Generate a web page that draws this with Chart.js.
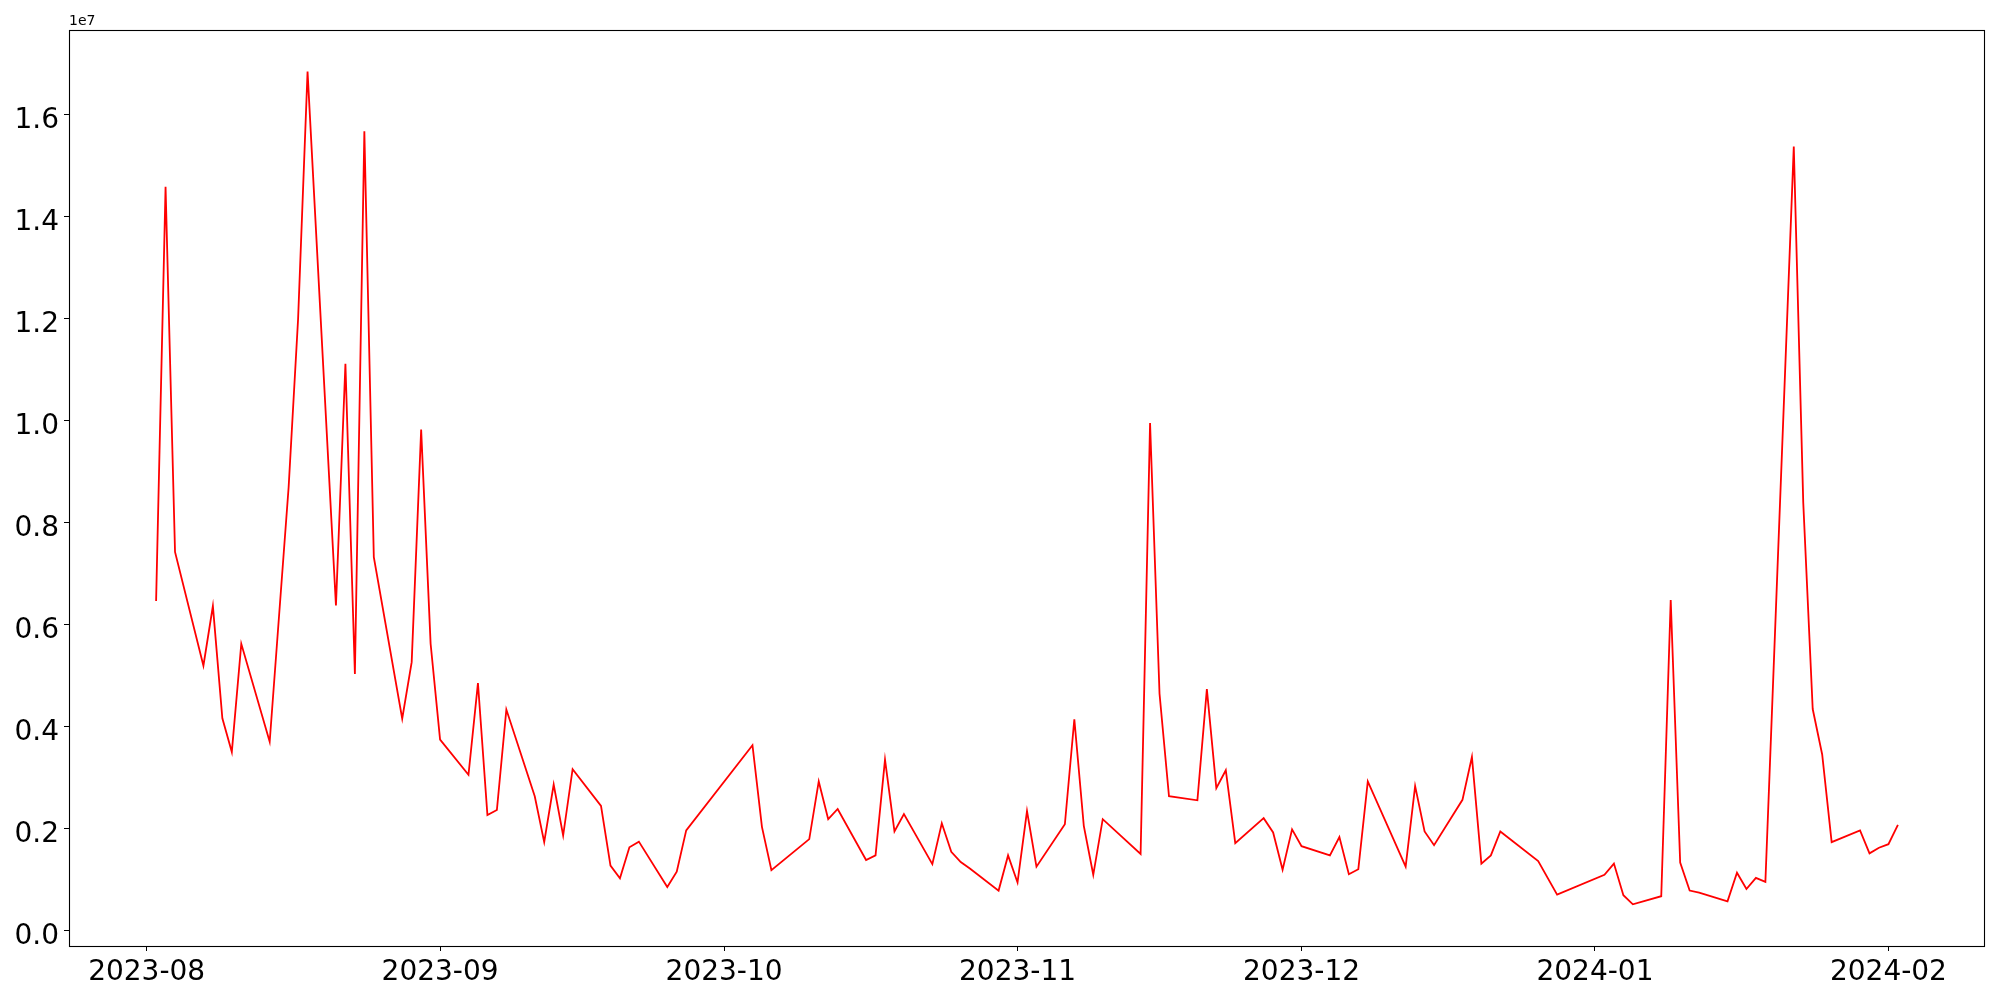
<!DOCTYPE html>
<html>
<head>
<meta charset="utf-8">
<script src="https://cdn.jsdelivr.net/npm/chart.js@4.4.1/dist/chart.umd.min.js"></script>
<style>
  body { margin: 0; background: #fff; }
  #wrap { width: 2000px; height: 1000px; }
</style>
</head>
<body>
<div id="wrap"><canvas id="volumeChart" width="2000" height="1000"></canvas></div>
<script>
const dates = [
    "2023-08-02", "2023-08-03", "2023-08-04", "2023-08-07", "2023-08-08", "2023-08-09", "2023-08-10", "2023-08-11",
    "2023-08-14", "2023-08-16", "2023-08-17", "2023-08-18", "2023-08-21", "2023-08-22", "2023-08-23", "2023-08-24",
    "2023-08-25", "2023-08-28", "2023-08-29", "2023-08-30", "2023-08-31", "2023-09-01", "2023-09-04", "2023-09-05",
    "2023-09-06", "2023-09-07", "2023-09-08", "2023-09-11", "2023-09-12", "2023-09-13", "2023-09-14", "2023-09-15",
    "2023-09-18", "2023-09-19", "2023-09-20", "2023-09-21", "2023-09-22", "2023-09-25", "2023-09-26", "2023-09-27",
    "2023-10-04", "2023-10-05", "2023-10-06", "2023-10-10", "2023-10-11", "2023-10-12", "2023-10-13", "2023-10-16",
    "2023-10-17", "2023-10-18", "2023-10-19", "2023-10-20", "2023-10-23", "2023-10-24", "2023-10-25", "2023-10-26",
    "2023-10-27", "2023-10-30", "2023-10-31", "2023-11-01", "2023-11-02", "2023-11-03", "2023-11-06", "2023-11-07",
    "2023-11-08", "2023-11-09", "2023-11-10", "2023-11-14", "2023-11-15", "2023-11-16", "2023-11-17", "2023-11-20",
    "2023-11-21", "2023-11-22", "2023-11-23", "2023-11-24", "2023-11-27", "2023-11-28", "2023-11-29", "2023-11-30",
    "2023-12-01", "2023-12-04", "2023-12-05", "2023-12-06", "2023-12-07", "2023-12-08", "2023-12-12", "2023-12-13",
    "2023-12-14", "2023-12-15", "2023-12-18", "2023-12-19", "2023-12-20", "2023-12-21", "2023-12-22", "2023-12-26",
    "2023-12-28", "2024-01-02", "2024-01-03", "2024-01-04", "2024-01-05", "2024-01-08", "2024-01-09", "2024-01-10",
    "2024-01-11", "2024-01-12", "2024-01-15", "2024-01-16", "2024-01-17", "2024-01-18", "2024-01-19", "2024-01-22",
    "2024-01-23", "2024-01-24", "2024-01-25", "2024-01-26", "2024-01-29", "2024-01-30", "2024-01-31", "2024-02-01",
    "2024-02-02"
];

const volumes = [
    6470000, 14590000, 7430000, 5200000, 6370000, 4170000, 3510000, 5630000,
    3710000, 8700000, 12000000, 16850000, 6380000, 11120000, 5040000, 15680000,
    7330000, 4160000, 5270000, 9830000, 5630000, 3750000, 3060000, 4860000,
    2270000, 2370000, 4340000, 2640000, 1740000, 2870000, 1870000, 3170000,
    2450000, 1280000, 1030000, 1640000, 1750000, 860000, 1160000, 1970000,
    3640000, 2040000, 1190000, 1800000, 2930000, 2190000, 2390000, 1390000,
    1480000, 3360000, 1950000, 2290000, 1310000, 2110000, 1550000, 1350000,
    1220000, 790000, 1480000, 950000, 2350000, 1260000, 2090000, 4150000,
    2060000, 1100000, 2190000, 1510000, 9960000, 4650000, 2640000, 2560000,
    4740000, 2800000, 3150000, 1720000, 2210000, 1930000, 1200000, 1990000,
    1660000, 1480000, 1840000, 1110000, 1210000, 2930000, 1260000, 2840000,
    1950000, 1680000, 2570000, 3410000, 1320000, 1480000, 1950000, 1370000,
    710000, 1100000, 1320000, 700000, 520000, 680000, 6490000, 1340000,
    790000, 750000, 580000, 1140000, 820000, 1040000, 960000, 15380000,
    8400000, 4350000, 3460000, 1740000, 1970000, 1520000, 1630000, 1700000,
    2080000
];

const xTickDates = ["2023-08-01", "2023-09-01", "2023-10-01", "2023-11-01", "2023-12-01", "2024-01-01", "2024-02-01"];
const yTickValues = [0, 2000000, 4000000, 6000000, 8000000, 10000000, 12000000, 14000000, 16000000];

const toTime = d => Date.parse(d + "T00:00:00Z");
const points = dates.map((d, i) => ({x: toTime(d), y: volumes[i]}));

// matplotlib style 5% margins
const xs = points.map(p => p.x);
const xSpan = Math.max(...xs) - Math.min(...xs);
const ySpan = Math.max(...volumes) - Math.min(...volumes);
const xMin = Math.min(...xs) - 0.05 * xSpan;
const xMax = Math.max(...xs) + 0.05 * xSpan;
const yMin = Math.min(...volumes) - 0.05 * ySpan;
const yMax = Math.max(...volumes) + 0.05 * ySpan;

const fontFamily = "'DejaVu Sans', sans-serif";

const framePlugin = {
    id: "frame",
    afterDraw(chart) {
        const {ctx, chartArea} = chart;
        ctx.save();
        ctx.strokeStyle = "#000";
        ctx.lineWidth = 1.1;
        ctx.strokeRect(chartArea.left + 0.5, chartArea.top + 0.5,
            chartArea.right - chartArea.left - 1, chartArea.bottom - chartArea.top);
        ctx.fillStyle = "#000";
        ctx.font = "14px " + fontFamily;
        ctx.textAlign = "left";
        ctx.textBaseline = "bottom";
        ctx.fillText("1e7", chartArea.left, chartArea.top - 2);
        ctx.restore();
    }
};

const tickGrid = {
    display: true,
    drawOnChartArea: false,
    drawTicks: true,
    tickLength: 5,
    color: "#000",
    lineWidth: 1
};

new Chart(document.getElementById("volumeChart"), {
    type: "line",
    data: {
        datasets: [{
            data: points,
            borderColor: "#ff0000",
            borderWidth: 1.8,
            pointRadius: 0,
            tension: 0,
            fill: false
        }]
    },
    options: {
        responsive: false,
        animation: false,
        layout: {padding: {top: 30, right: 15, left: 0, bottom: 0}},
        plugins: {legend: {display: false}, tooltip: {enabled: false}},
        scales: {
            x: {
                type: "linear",
                min: xMin,
                max: xMax,
                grid: tickGrid,
                border: {display: false},
                afterFit: s => { s.height = 54; },
                afterBuildTicks: s => { s.ticks = xTickDates.map(d => ({value: toTime(d)})); },
                ticks: {
                    autoSkip: false,
                    maxRotation: 0,
                    padding: 5,
                    color: "#000",
                    font: {family: fontFamily, size: 28},
                    callback: v => new Date(v).toISOString().slice(0, 7)
                }
            },
            y: {
                min: yMin,
                max: yMax,
                grid: tickGrid,
                border: {display: false},
                afterFit: s => { s.width = 69; },
                afterBuildTicks: s => { s.ticks = yTickValues.map(v => ({value: v})); },
                ticks: {
                    padding: 5,
                    labelOffset: 6,
                    color: "#000",
                    font: {family: fontFamily, size: 28},
                    callback: v => (v / 1e7).toFixed(1)
                }
            }
        }
    },
    plugins: [framePlugin]
});
</script>
</body>
</html>
